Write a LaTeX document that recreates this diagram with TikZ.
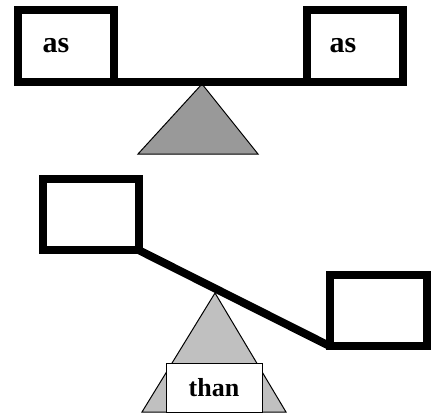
\documentclass[tikz,border=0pt]{standalone}
\usepackage{fontspec}
\setmainfont{Liberation Serif}
\usepackage{xcolor}
\usetikzlibrary{positioning,calc}
\definecolor{pivotdark}{RGB}{153,153,153}
\definecolor{pivotlight}{RGB}{192,192,192}

\begin{document}
\begin{tikzpicture}[x=1pt, y=-1pt,
    pan/.style={draw, rectangle, line width=8pt, outer sep=0pt, inner sep=0pt, fill=white},
    beam/.style={line width=8pt},
    pivot/.style={draw, line width=1pt},
    word/.style={font=\fontsize{30}{30}\selectfont\bfseries, inner sep=0pt}]
    \useasboundingbox (0,0) rectangle (436,416);

    % Balanced scale
    \draw[pivot, fill=pivotdark] (202,84) -- (138,154) -- (258,154) -- cycle;
    \node[pan, minimum width=96pt, minimum height=72pt] (lpan) at (66,46) {};
    \node[pan, minimum width=96pt, minimum height=72pt] (rpan) at (355,46) {};
    \draw[beam] (lpan.south east) -- (rpan.south west);
    \node[word, xshift=-10pt] at (lpan.center) {as};
    \node[word, xshift=-12pt] at (rpan.center) {as};

    % Tipped scale
    \draw[pivot, fill=pivotlight] (215,293) -- (142,412) -- (286,412) -- cycle;
    \node[pan, minimum width=96pt, minimum height=71pt] (lpantip) at (90.5,214.5) {};
    \node[pan, minimum width=97pt, minimum height=71pt] (rpantip) at (378,310.5) {};
    \draw[beam] (lpantip.south east) -- (rpantip.south west);
    \node[pivot, fill=white, minimum width=96pt, minimum height=49pt, inner sep=0pt,
        font=\fontsize{26}{26}\selectfont\bfseries] (than) at (214,387.5) {than};
\end{tikzpicture}
\end{document}
